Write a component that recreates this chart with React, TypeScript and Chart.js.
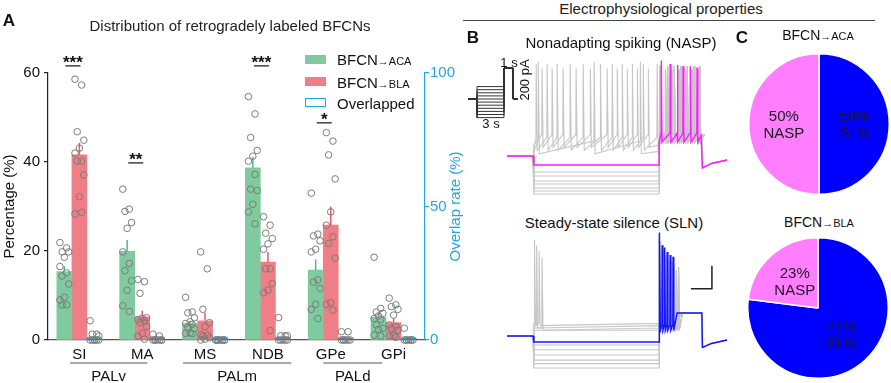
import React, { useEffect, useRef } from 'react';
import { Chart, registerables } from 'chart.js';

Chart.register(...registerables);

const FONT = "'Liberation Sans', Arial, Helvetica, sans-serif";
Chart.defaults.font.family = FONT;

// ================= Panel A: distribution of retrogradely labeled BFCNs =================
const categories = ['SI', 'MA', 'MS', 'NDB', 'GPe', 'GPi'];
const groupNames = ['PALv', 'PALm', 'PALd'];
const percentTicks = [0, 20, 40, 60];
const overlapTicks = [0, 50, 100];

const acaMean = [15.4, 19.9, 3.7, 38.7, 15.7, 5.1];
const acaSem = [1.2, 2.6, 0.6, 2.5, 2.4, 1.0];
const blaMean = [41.6, 5.2, 4.3, 17.5, 25.8, 3.9];
const blaSem = [2.7, 1.4, 1.8, 2.3, 4.2, 1.0];
const overlapMean = [0.8, 0.3, 0.1, 1.0, 0.5, 0.4];

const acaPoints = [
  [21.9, 20.7, 19.8, 19.8, 18.6, 16.5, 15.1, 14.4, 12.6, 9.6, 9.0, 7.9, 7.9],
  [33.9, 29.4, 28.9, 26.4, 25.1, 19.8, 17.2, 15.6, 13.3, 11.2, 7.7, 6.4],
  [9.6, 6.3, 6.1, 5.0, 4.1, 3.7, 3.5, 2.9, 2.6, 1.6, 1.5, 1.4],
  [54.7, 50.8, 45.5, 42.6, 41.3, 40.2, 37.2, 33.9, 33.6, 30.5, 28.8, 26.1],
  [33.0, 23.8, 23.4, 22.3, 20.4, 19.8, 13.5, 13.0, 11.6, 8.0, 6.9, 4.8],
  [18.6, 7.1, 6.3, 6.0, 5.4, 4.8, 4.6, 3.4, 2.6, 2.4, 1.1, 0.9],
];
const blaPoints = [
  [58.6, 57.3, 46.8, 44.9, 43.1, 42.0, 40.2, 40.2, 37.1, 32.2, 28.3, 28.7],
  [13.6, 13.1, 10.5, 5.0, 4.9, 4.6, 4.3, 3.9, 3.0, 1.5, 0.9, 0.2],
  [19.8, 16.0, 6.9, 3.9, 3.0, 1.2, 1.1, 0.9, 0.5, 0.2, 0.0],
  [27.7, 25.8, 24.0, 22.8, 21.6, 20.4, 16.0, 16.0, 12.7, 11.2, 10.6, 2.1],
  [46.6, 44.7, 41.6, 36.2, 28.8, 25.8, 23.2, 21.7, 18.4, 8.4, 8.0, 6.7],
  [9.4, 7.9, 7.5, 6.9, 5.6, 3.4, 3.0, 2.6, 2.2, 1.0, 0.9, 0.6],
];
const overlapPoints = [
  [7.2, 2.2, 2.2, 1.5, 0, 0, 0, 0, 0, 0],
  [2.2, 1.5, 0, 0, 0, 0, 0, 0, 0],
  [0, 0, 0, 0, 0, 0, 0, 0, 0],
  [8.4, 1.6, 1.6, 1.6, 0, 0, 0, 0, 0],
  [3.1, 3.1, 0, 0, 0, 0, 0, 0],
  [4.4, 0, 0, 0, 0, 0, 0, 0],
];
const sigLabels = ['***', '**', '', '***', '*', ''];
const sigLevels = [61.6, 39.8, 0, 61.6, 48.8, 0];

// ================= Panel B: recordings (time s, potential mV) =================
const recStart = -0.62;
const stepEnd = 3;
const pulseEnd = 4.02;
const recoveryTimes = [4.035, 4.25, 4.62];

const naspRest = -60;
const naspGrayLevels = [-50.5, -53, -56, -73.9, -77.4, -81.7, -84.3, -87.8, -90.4, -93.0];
const naspGraySpikes = [
  [0.21, 0.45, 0.71, 1.02, 1.36, 1.76, 2.0, 2.24, 2.48, 2.74],
  [0.07, 0.33, 0.57, 0.88, 1.19, 1.6, 1.88, 2.12, 2.36, 2.62, 2.95],
  [0.12, 1.45, 2.55],
  [], [], [], [], [], [], [],
];
const naspGrayPeaks = [16, 20, 22, 0, 0, 0, 0, 0, 0, 0];
const naspGrayPulseSpikes = [
  [3.02, 3.2, 3.36, 3.52, 3.67, 3.83, 3.97],
  [3.04, 3.15, 3.3, 3.47, 3.62, 3.78, 3.93],
];
const naspGrayPulsePeaks = [18, 15];
const naspPinkLevel = -67.8;
const naspPinkPulseSpikes = [3.05, 3.26, 3.43, 3.57, 3.74, 3.9];
const naspPinkPulsePeaks = [23, 20, 19, 18, 18, 17];
const naspPulse = { trough: -48, ramp: -40, plateau: -42 };
const naspRecovery = [-70.4, -66.5, -63.5];

const slnRest = -60;
const slnGrayLevels = [-49, -51, -53, -55, -67.8, -72, -76.5, -81, -84, -87.8];
const slnGrayOnsetSpikes = [[0.03, 0.14], [0.08], [0.21], [], [], [], [], [], [], []];
const slnGrayOnsetPeaks = [[23.5, 14], [18.6], [8], [], [], [], [], [], [], []];
const slnGrayPulseSpikes = [
  [3.01, 3.09, 3.17, 3.26, 3.36, 3.46],
  [3.03, 3.11, 3.2, 3.3, 3.41],
];
const slnGrayPulsePeaks = [
  [26, 16, 10, 5, 2, 0],
  [22, 14, 8, 3, -3],
];
const slnBlueLevel = -65.2;
const slnBluePulseSpikes = [3.01, 3.07, 3.13, 3.19, 3.26, 3.33];
const slnBluePulsePeaks = [30, 19, 17, 13, 10.5, 9];
const slnPulse = { trough: -55, ramp: -50, plateau: -40 };
const slnRecovery = [-70, -66.5, -63.5];

// stimulus protocol (pA)
const stimLevels = [-120, -100, -80, -60, -40, -20, 0, 20, 40, 60, 80];
const stimPulse = 200;

// ================= Panel C: firing types =================
const typeNames = ['SLN', 'NASP'];
const acaTypes = [50, 50];
const blaTypes = [77, 23];

// ================= styles =================
const GREEN = '#7fcb9f';
const GREEN_ERR = '#4dbb7c';
const RED = '#f07e86';
const RED_ERR = '#ea5864';
const CYAN = '#22a7e2';
const DOT = '#7c7c7c';
const TRACE_GRAY = '#c6c6c6';
const PINK_TRACE = '#ff1aff';
const BLUE_TRACE = '#1414ff';
const PIE_PINK = '#ff7dff';
const PIE_BLUE = '#0000ff';

const BAR_SHIFT = 0.24;
const jitter = (j: number) => (((j * 3) % 5) - 2) * 0.035;
function pointsFor(sets: number[][], shift: number) {
  return sets.flatMap((vals, i) => vals.map((v, j) => ({ x: i + shift + jitter(j), y: v })));
}
function barsFor(vals: number[], shift: number) {
  return vals.map((v, i) => ({ x: i + shift, y: v }));
}

const dotStyle = {
  type: 'scatter',
  pointRadius: 3.3,
  pointBorderWidth: 1,
  pointBorderColor: DOT,
  pointBackgroundColor: 'rgba(0,0,0,0)',
  showLine: false,
  clip: false,
  order: 1,
  xAxisID: 'x',
};

const barStyle = {
  type: 'bar',
  grouped: false,
  barThickness: 15,
  borderWidth: 0,
  xAxisID: 'x',
};

const panelAPlugin = {
  id: 'panelA',
  afterDatasetDraw(chart: any, args: any) {
    const ds: any = chart.data.datasets[args.index];
    if (!ds.sem) return;
    const ys = chart.scales[ds.yAxisID];
    const ctx = chart.ctx;
    ctx.save();
    ctx.strokeStyle = ds.errorColor;
    ctx.lineWidth = 1.5;
    args.meta.data.forEach((el: any, i: number) => {
      const top = ys.getPixelForValue(ds.data[i].y + ds.sem[i]);
      ctx.beginPath();
      ctx.moveTo(el.x, el.y);
      ctx.lineTo(el.x, top);
      ctx.stroke();
    });
    ctx.restore();
  },
  afterDraw(chart: any) {
    const ctx = chart.ctx;
    const x = chart.scales.x;
    const y = chart.scales.y;
    const area = chart.chartArea;
    const cw = x.getPixelForValue(1) - x.getPixelForValue(0);
    ctx.save();
    // significance marks
    sigLabels.forEach((s, i) => {
      if (!s) return;
      const cx = x.getPixelForValue(i) - 6.5;
      const ly = y.getPixelForValue(sigLevels[i]);
      ctx.strokeStyle = '#222';
      ctx.lineWidth = 1.3;
      ctx.beginPath();
      ctx.moveTo(cx - 7.5, ly);
      ctx.lineTo(cx + 7.5, ly);
      ctx.stroke();
      ctx.fillStyle = '#111';
      ctx.font = `bold 17px ${FONT}`;
      ctx.textAlign = 'center';
      ctx.textBaseline = 'alphabetic';
      ctx.fillText(s, cx, ly + 2);
    });
    // region groups
    const spans = [[-0.15, 1.08], [1.65, 3.37], [3.88, 4.82]];
    const x0 = x.getPixelForValue(0);
    spans.forEach((sp, g) => {
      const a = x0 + sp[0] * cw;
      const b = x0 + sp[1] * cw;
      ctx.strokeStyle = '#555';
      ctx.lineWidth = 1.2;
      ctx.beginPath();
      ctx.moveTo(a, 363);
      ctx.lineTo(b, 363);
      ctx.stroke();
      ctx.fillStyle = '#111';
      ctx.font = `15px ${FONT}`;
      ctx.textAlign = 'center';
      ctx.textBaseline = 'middle';
      ctx.fillText(groupNames[g], (a + b) / 2, 377);
    });
    // axis titles
    const midY = (area.top + area.bottom) / 2;
    ctx.font = `15px ${FONT}`;
    ctx.textAlign = 'center';
    ctx.textBaseline = 'middle';
    ctx.save();
    ctx.translate(9.5, midY);
    ctx.rotate(-Math.PI / 2);
    ctx.fillStyle = '#111';
    ctx.fillText('Percentage (%)', 0, 0);
    ctx.restore();
    ctx.save();
    ctx.translate(456, midY);
    ctx.rotate(-Math.PI / 2);
    ctx.fillStyle = CYAN;
    ctx.fillText('Overlap rate (%)', 0, 0);
    ctx.restore();
    ctx.restore();
  },
};

function makePanelA(): any {
  return {
    type: 'bar',
    data: {
      datasets: [
        { ...dotStyle, label: 'ACA cells', data: pointsFor(acaPoints, -BAR_SHIFT), yAxisID: 'y' },
        { ...dotStyle, label: 'BLA cells', data: pointsFor(blaPoints, 0), yAxisID: 'y' },
        { ...dotStyle, label: 'Overlap cells', data: pointsFor(overlapPoints, BAR_SHIFT), yAxisID: 'y1' },
        {
          ...barStyle, label: 'BFCN→ACA', data: barsFor(acaMean, -BAR_SHIFT), sem: acaSem, errorColor: GREEN_ERR,
          backgroundColor: GREEN, yAxisID: 'y', order: 3,
        },
        {
          ...barStyle, label: 'BFCN→BLA', data: barsFor(blaMean, 0), sem: blaSem, errorColor: RED_ERR,
          backgroundColor: RED, yAxisID: 'y', order: 3,
        },
        {
          ...barStyle, label: 'Overlapped', data: barsFor(overlapMean, BAR_SHIFT),
          backgroundColor: 'rgba(255,255,255,0)', borderColor: CYAN, borderWidth: 1.5, minBarLength: 2,
          yAxisID: 'y1', order: 2,
        },
      ],
    },
    options: {
      responsive: false,
      animation: false,
      events: [],
      layout: { padding: { top: 73, left: 0, right: 0, bottom: 0 } },
      plugins: { legend: { display: false }, tooltip: { enabled: false } },
      scales: {
        x: {
          type: 'linear',
          min: -0.5,
          max: 5.5,
          offset: false,
          afterBuildTicks: (s: any) => { s.ticks = categories.map((_, i) => ({ value: i })); },
          grid: { drawOnChartArea: false, drawTicks: false, offset: false },
          border: { display: true, color: '#555', width: 1.3 },
          ticks: {
            color: '#111', font: { size: 15 }, padding: 6, autoSkip: false, maxRotation: 0,
            callback: (v: any) => categories[Math.round(Number(v))],
          },
          afterFit: (s: any) => { s.height = 43; },
        },
        y: {
          position: 'left',
          min: 0,
          max: 60,
          afterBuildTicks: (s: any) => { s.ticks = percentTicks.map((v) => ({ value: v })); },
          grid: { drawOnChartArea: false, tickLength: 4, color: '#222', lineWidth: 1.2 },
          border: { color: '#222', width: 1.2 },
          ticks: { color: '#111', font: { size: 15 }, padding: 4 },
          afterFit: (s: any) => { s.width = 48; },
        },
        y1: {
          position: 'right',
          min: 0,
          max: 100,
          afterBuildTicks: (s: any) => { s.ticks = overlapTicks.map((v) => ({ value: v })); },
          grid: { drawOnChartArea: false, tickLength: 4, color: CYAN, lineWidth: 1.2 },
          border: { color: CYAN, width: 1.2 },
          ticks: { color: CYAN, font: { size: 15 }, padding: 1 },
          afterFit: (s: any) => { s.width = 45; },
        },
      },
    },
    plugins: [panelAPlugin],
  };
}

// ---------- traces ----------
type Pt = { x: number; y: number };
function buildTrace(
  rest: number, level: number,
  stepSpikes: number[], stepPeaks: number[], stepRamp: number,
  pulseSpikes: number[], pulsePeaks: number[],
  pulse: { trough: number; ramp: number; plateau: number },
  recovery: number[],
): Pt[] {
  const pts: Pt[] = [{ x: recStart, y: rest }, { x: 0, y: rest }, { x: 0.02, y: level }];
  stepSpikes.forEach((t, k) => {
    pts.push({ x: t, y: level + stepRamp }, { x: t + 0.006, y: stepPeaks[k] }, { x: t + 0.03, y: level - 2 });
  });
  pts.push({ x: stepEnd, y: level }, { x: stepEnd + 0.004, y: pulse.trough });
  pulseSpikes.forEach((t, k) => {
    pts.push({ x: t, y: pulse.ramp }, { x: t + 0.005, y: pulsePeaks[k] }, { x: t + 0.022, y: pulse.trough });
  });
  const last = pulseSpikes[pulseSpikes.length - 1];
  pts.push({ x: last + 0.1, y: pulse.plateau }, { x: pulseEnd, y: pulse.plateau });
  recoveryTimes.forEach((t, k) => pts.push({ x: t, y: recovery[k] }));
  return pts;
}

function traceDataset(data: Pt[], color: string, width: number, order: number) {
  return {
    data, borderColor: color, borderWidth: width, pointRadius: 0, showLine: true,
    tension: 0, fill: false, order,
  };
}

function naspDatasets() {
  const gray = naspGrayLevels.map((lv, i) =>
    traceDataset(
      buildTrace(naspRest, lv, naspGraySpikes[i], naspGraySpikes[i].map(() => naspGrayPeaks[i]), 9,
        naspGrayPulseSpikes[i % 2], naspGrayPulseSpikes[i % 2].map(() => naspGrayPulsePeaks[i % 2]),
        naspPulse, naspRecovery),
      TRACE_GRAY, 1.1, 2),
  );
  const pink = traceDataset(
    buildTrace(naspRest, naspPinkLevel, [], [], 0, naspPinkPulseSpikes, naspPinkPulsePeaks, naspPulse, naspRecovery),
    PINK_TRACE, 1.4, 0);
  return [pink, ...gray];
}

function slnDatasets() {
  const gray = slnGrayLevels.map((lv, i) =>
    traceDataset(
      buildTrace(slnRest, lv, slnGrayOnsetSpikes[i], slnGrayOnsetPeaks[i], 0,
        slnGrayPulseSpikes[i % 2], slnGrayPulsePeaks[i % 2], slnPulse, slnRecovery),
      TRACE_GRAY, 1.1, 2),
  );
  const blue = traceDataset(
    buildTrace(slnRest, slnBlueLevel, [], [], 0, slnBluePulseSpikes, slnBluePulsePeaks, slnPulse, slnRecovery),
    BLUE_TRACE, 1.4, 0);
  return [blue, ...gray];
}

const scaleBarPlugin = {
  id: 'scaleBar',
  afterDraw(chart: any) {
    const xs = chart.scales.x;
    const ys = chart.scales.y;
    const ctx = chart.ctx;
    const ax = xs.getPixelForValue(4.26);
    const ay = ys.getPixelForValue(-19);
    const bx = xs.getPixelForValue(4.26 - 0.5);
    const by = ys.getPixelForValue(-19 + 20);
    ctx.save();
    ctx.strokeStyle = '#222';
    ctx.lineWidth = 1.5;
    ctx.beginPath();
    ctx.moveTo(bx, ay);
    ctx.lineTo(ax, ay);
    ctx.lineTo(ax, by);
    ctx.stroke();
    ctx.restore();
  },
};

function makeTraceChart(datasets: any[], xMin: number, xMax: number, yMin: number, yMax: number, plugins: any[] = []): any {
  return {
    type: 'scatter',
    data: { datasets },
    options: {
      responsive: false,
      animation: false,
      events: [],
      layout: { padding: 0 },
      plugins: { legend: { display: false }, tooltip: { enabled: false } },
      scales: {
        x: { type: 'linear', display: false, min: xMin, max: xMax },
        y: { type: 'linear', display: false, min: yMin, max: yMax },
      },
    },
    plugins,
  };
}

function stimDatasets() {
  return stimLevels.map((lv) =>
    traceDataset(
      [
        { x: -1, y: 0 }, { x: 0, y: 0 }, { x: 0, y: lv }, { x: stepEnd, y: lv },
        { x: stepEnd, y: stimPulse }, { x: 4, y: stimPulse }, { x: 4, y: 0 }, { x: 4.5, y: 0 },
      ],
      '#333', 1, 1),
  );
}

// ---------- pies ----------
const pieLabelPlugin = {
  id: 'pieLabels',
  afterDraw(chart: any) {
    const ctx = chart.ctx;
    const meta = chart.getDatasetMeta(0);
    const vals = chart.data.datasets[0].data;
    ctx.save();
    ctx.font = `15px ${FONT}`;
    ctx.textAlign = 'center';
    ctx.textBaseline = 'middle';
    ctx.fillStyle = '#1a1a1a';
    meta.data.forEach((arc: any, i: number) => {
      const p = arc.getProps(['x', 'y', 'startAngle', 'endAngle', 'outerRadius'], true);
      const mid = (p.startAngle + p.endAngle) / 2;
      const r = p.outerRadius * 0.5;
      const cx = p.x + Math.cos(mid) * r;
      const cy = p.y + Math.sin(mid) * r;
      ctx.fillText(`${vals[i]}%`, cx, cy - 7.5);
      ctx.fillText(typeNames[i], cx, cy + 9.5);
    });
    ctx.restore();
  },
};

function makePie(values: number[]): any {
  return {
    type: 'pie',
    data: {
      labels: typeNames,
      datasets: [{ data: values, backgroundColor: [PIE_BLUE, PIE_PINK], borderColor: '#ffffff', borderWidth: 1.5 }],
    },
    options: {
      responsive: false,
      animation: false,
      events: [],
      layout: { padding: 0 },
      plugins: { legend: { display: false }, tooltip: { enabled: false } },
    },
    plugins: [pieLabelPlugin],
  };
}

// ================= components =================
function ChartBox({ left, top, width, height, make }: { left: number; top: number; width: number; height: number; make: () => any }) {
  const ref = useRef<HTMLCanvasElement>(null);
  useEffect(() => {
    const chart = new Chart(ref.current as HTMLCanvasElement, make());
    return () => chart.destroy();
  }, []);
  return (
    <canvas
      ref={ref}
      width={width}
      height={height}
      style={{ position: 'absolute', left, top, width, height }}
    />
  );
}

function Label({ x, y, children, size = 15, bold = false, color = '#111', align = 'center', rotate = 0 }: any) {
  const tx = align === 'center' ? '-50%' : '0';
  return (
    <div
      style={{
        position: 'absolute', left: x, top: y, whiteSpace: 'nowrap', fontFamily: FONT,
        fontSize: size, fontWeight: bold ? 700 : 400, color, lineHeight: 1,
        transform: `translate(${tx}, -50%)${rotate ? ` rotate(${rotate}deg)` : ''}`,
        transformOrigin: align === 'center' ? '50% 50%' : '0 50%',
      }}
    >
      {children}
    </div>
  );
}

export default function App() {
  useEffect(() => {
    document.body.style.margin = '0';
  }, []);
  return (
    <div style={{ position: 'fixed', left: 0, top: 0, width: 891, height: 383, background: '#fff', overflow: 'hidden' }}>
      {/* Panel A */}
      <ChartBox left={0} top={0} width={470} height={383} make={makePanelA} />
      <Label x={9} y={20} size={17} bold>A</Label>
      <Label x={230} y={25} color="#222">Distribution of retrogradely labeled BFCNs</Label>
      <div style={{ position: 'absolute', left: 305, top: 54.5, width: 21, height: 9, background: GREEN }} />
      <Label x={337} y={59} align="left">BFCN<span style={{ fontSize: 11 }}>→ACA</span></Label>
      <div style={{ position: 'absolute', left: 305, top: 77, width: 21, height: 9, background: RED }} />
      <Label x={337} y={81.5} align="left">BFCN<span style={{ fontSize: 11 }}>→BLA</span></Label>
      <div style={{ position: 'absolute', left: 305, top: 98, width: 21, height: 9, boxSizing: 'border-box', border: `1.5px solid ${CYAN}`, background: '#fff' }} />
      <Label x={337} y={102.5} align="left">Overlapped</Label>

      {/* Panel B */}
      <Label x={661} y={8} color="#222">Electrophysiological properties</Label>
      <div style={{ position: 'absolute', left: 463, top: 20, width: 412, height: 1, background: '#444' }} />
      <Label x={473} y={37} size={17} bold>B</Label>
      <Label x={621} y={42}>Nonadapting spiking (NASP)</Label>
      <Label x={614} y={222}>Steady-state silence (SLN)</Label>
      <ChartBox left={460} top={55} width={70} height={75} make={() => makeTraceChart(stimDatasets(), -17 / 9, 53 / 9, -200, 44 / 0.155)} />
      <Label x={509} y={62} size={13}>1 s</Label>
      <Label x={491} y={123} size={13}>3 s</Label>
      <Label x={524} y={80} size={13} rotate={-90}>200 pA</Label>
      <ChartBox left={500} top={52} width={235} height={150} make={() => makeTraceChart(naspDatasets(), -33 / 42, 202 / 42, -100, 30.4)} />
      <ChartBox left={500} top={225} width={235} height={150} make={() => makeTraceChart(slnDatasets(), -33 / 42, 202 / 42, -93.9, 36.5, [scaleBarPlugin])} />

      {/* Panel C */}
      <Label x={742} y={37} size={17} bold>C</Label>
      <Label x={818} y={35} size={14}>BFCN<span style={{ fontSize: 11 }}>→ACA</span></Label>
      <Label x={819} y={222} size={14}>BFCN<span style={{ fontSize: 11 }}>→BLA</span></Label>
      <ChartBox left={748} top={53} width={142} height={142} make={() => makePie(acaTypes)} />
      <ChartBox left={747} top={237} width={142} height={142} make={() => makePie(blaTypes)} />
    </div>
  );
}
